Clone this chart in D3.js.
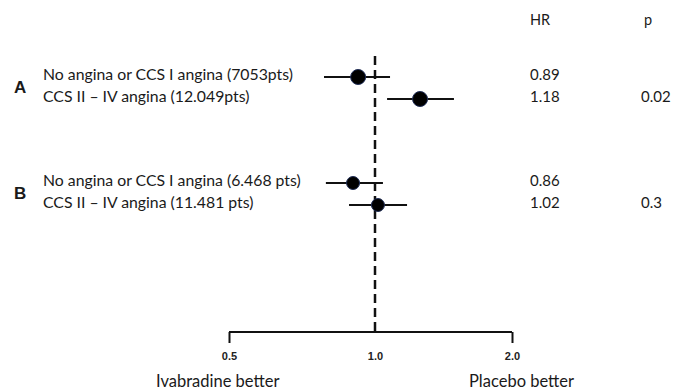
<!DOCTYPE html>
<html>
<head>
<meta charset="utf-8">
<script src="https://cdn.jsdelivr.net/npm/d3@7"></script>
<style>
body{margin:0;background:#fff;}
text{font-family:Lato,"Open Sans",sans-serif;fill:#1a1a1a;}
</style>
</head>
<body>
<div id="chart"></div>
<script>
// groups and rows
var groups=["A","B"];
var rowGroup=["A","A","B","B"];
var rowLabels=["No angina or CCS I angina (7053pts)","CCS II \u2013 IV angina  (12.049pts)","No angina or CCS I angina (6.468 pts)","CCS II \u2013 IV angina (11.481 pts)"];
// plotted estimate / interval
var est=[0.923,1.256,0.901,1.015];
var lower=[0.785,1.063,0.792,0.884];
var upper=[1.079,1.491,1.041,1.176];
// printed columns
var hrText=["0.89","1.18","0.86","1.02"];
var pText=["","0.02","","0.3"];
var tickVals=[0.5,1,2];
var tickLabels=["0.5","1.0","2.0"];

var width=686,height=392;
var svg=d3.select("#chart").append("svg").attr("width",width).attr("height",height);

// forest plot x axis (not drawn evenly in the original, so piecewise)
var x=d3.scaleLog().domain([0.5,1,2]).range([229,375,512]);
var gy=d3.scalePoint().domain(groups).range([77,183]);
var rowIdx=rowGroup.map(function(g,i){return rowGroup.slice(0,i).filter(function(d){return d==g;}).length;});
var y=function(i){return gy(rowGroup[i])+rowIdx[i]*22;};
var axisY=332;

// reference line
svg.append("line")
 .attr("x1",x(1)).attr("x2",x(1))
 .attr("y1",56).attr("y2",axisY)
 .attr("stroke","#111").attr("stroke-width",2.5)
 .attr("stroke-dasharray","9,5");

// axis
var axis=d3.axisBottom(x).tickValues(tickVals).tickSize(11).tickSizeOuter(0)
 .tickFormat(function(d,i){return tickLabels[i];});
var ax=svg.append("g").attr("transform","translate(0,"+axisY+")").call(axis);
ax.select(".domain").attr("stroke","#111").attr("stroke-width",2).attr("d","M"+x(0.5)+",0H"+x(2));
ax.selectAll(".tick line").attr("stroke","#111").attr("stroke-width",2)
 .attr("y2",function(d){return d==1?0:11;});
ax.selectAll(".tick text").attr("y",20)
 .style("font-family","'Liberation Sans',Arial,sans-serif").style("font-weight","bold").style("font-size","11px").style("fill","#222");

// CIs
svg.selectAll(".ci").data(est).enter().append("line").attr("class","ci")
 .attr("x1",function(d,i){return x(lower[i]);})
 .attr("x2",function(d,i){return x(upper[i]);})
 .attr("y1",function(d,i){return y(i);}).attr("y2",function(d,i){return y(i);})
 .attr("stroke","#111").attr("stroke-width",2);

svg.selectAll(".pt").data(est).enter().append("circle").attr("class","pt")
 .attr("cx",function(d){return x(d);})
 .attr("cy",function(d,i){return y(i);})
 .attr("r",function(d,i){return rowGroup[i]=="A"?7.5:6.5;})
 .attr("fill","#000").attr("stroke","#1d2b55").attr("stroke-width",1);

// row labels
svg.selectAll(".lab").data(rowLabels).enter().append("text").attr("class","lab")
 .attr("x",43).attr("y",function(d,i){return y(i)+3;})
 .style("font-size","15.8px").text(function(d){return d;});

svg.selectAll(".grp").data(groups).enter().append("text").attr("class","grp")
 .attr("x",14).attr("y",function(d){return gy(d)+16;})
 .style("font-family","'Liberation Sans',Arial,sans-serif").style("font-weight","bold").style("font-size","17px")
 .text(function(d){return d;});

// HR and p columns
svg.append("text").attr("x",530).attr("y",25).style("font-size","14.5px").text("HR");
svg.append("text").attr("x",644).attr("y",25).style("font-size","14.5px").text("p");
svg.selectAll(".hr").data(hrText).enter().append("text").attr("class","hr")
 .attr("x",530).attr("y",function(d,i){return y(i)+3;})
 .style("font-size","15px").text(function(d){return d;});
svg.selectAll(".pv").data(pText).enter().append("text").attr("class","pv")
 .attr("x",641).attr("y",function(d,i){return y(i)+3;})
 .style("font-size","15px").text(function(d){return d;});

svg.append("text").attr("x",156).attr("y",387).style("font-size","16.5px").text("Ivabradine better");
svg.append("text").attr("x",469).attr("y",387).style("font-size","16.5px").text("Placebo better");
</script>
</body>
</html>
